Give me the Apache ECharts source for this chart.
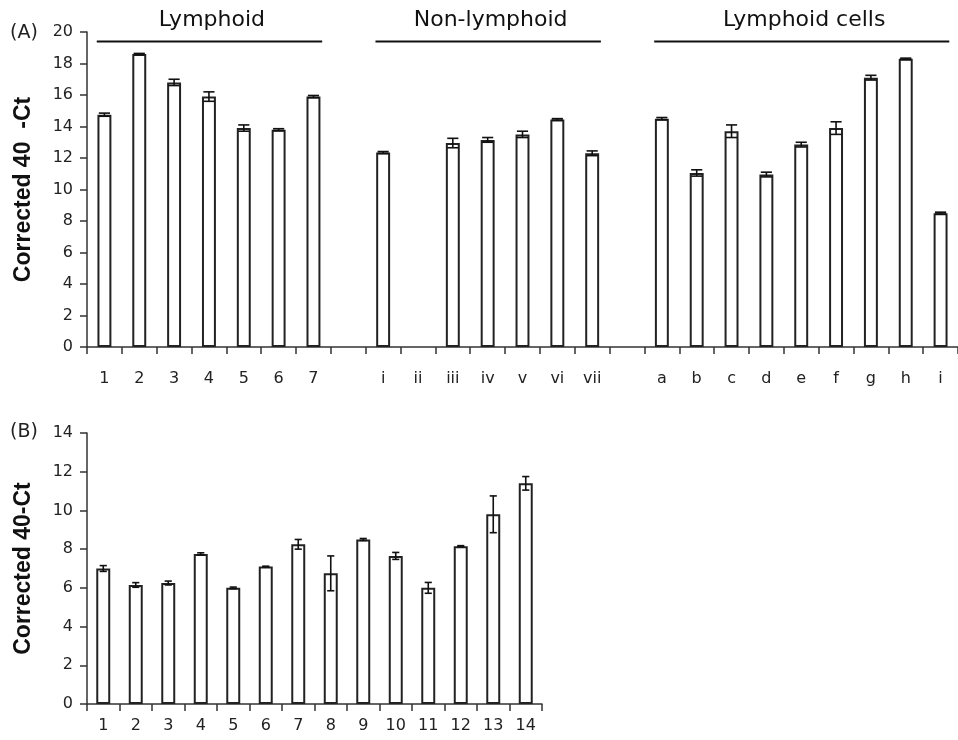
<!DOCTYPE html>
<html>
<head>
<meta charset="utf-8">
<script src="https://cdn.jsdelivr.net/npm/echarts@6/dist/echarts.min.js"></script>
<style>html,body{margin:0;padding:0;background:#fff;}#c{width:958px;height:740px;}</style>
</head>
<body>
<div id="c"></div>
<script>
// ---- Panel A data ----
const catsA = ['1','2','3','4','5','6','7',' ','i','ii','iii','iv','v','vi','vii','  ','a','b','c','d','e','f','g','h','i'];
const valuesA = [14.75,18.6,16.8,15.9,13.9,13.8,15.9,'-',12.35,'-',12.95,13.15,13.5,14.45,12.3,'-',14.5,11.05,13.7,10.95,12.85,13.9,17.1,18.3,8.5];
const errorsA = [0.1,0.04,0.2,0.3,0.2,0.06,0.07,'-',0.06,'-',0.3,0.15,0.2,0.05,0.15,'-',0.07,0.2,0.4,0.15,0.15,0.4,0.15,0.04,0.06];
const groupsA = [['Lymphoid',0,6],['Non-lymphoid',8,14],['Lymphoid cells',16,24]];
const yTicksA = {min:0,max:20,interval:2};
// ---- Panel B data ----
const catsB = ['1','2','3','4','5','6','7','8','9','10','11','12','13','14'];
const valuesB = [7.0,6.15,6.25,7.75,6.0,7.1,8.25,6.75,8.5,7.65,6.0,8.15,9.8,11.4];
const errorsB = [0.15,0.12,0.1,0.06,0.04,0.02,0.25,0.9,0.05,0.18,0.28,0.03,0.95,0.35];
const yTicksB = {min:0,max:14,interval:2};

const FONT = 'DejaVu Sans';
const AXC = '#333';

function errData(vals, errs){
  const out = [];
  vals.forEach((v,i)=>{ if(v!=='-' && errs[i]!=='-') out.push([i,v,errs[i]]); });
  return out;
}
function errRender(capFrac){
  return function(params, api){
    const i = api.value(0), v = api.value(1), e = api.value(2);
    const top = api.coord([i, v+e]);
    const bot = api.coord([i, v-e]);
    const band = api.size([1,0])[0];
    const hw = band*capFrac;
    const st = {stroke:'#111', lineWidth:1.6};
    return {type:'group', children:[
      {type:'line', shape:{x1:top[0],y1:top[1],x2:bot[0],y2:bot[1]}, style:st},
      {type:'line', shape:{x1:top[0]-hw,y1:top[1],x2:top[0]+hw,y2:top[1]}, style:st},
      {type:'line', shape:{x1:bot[0]-hw,y1:bot[1],x2:bot[0]+hw,y2:bot[1]}, style:st}
    ]};
  };
}

const chart = echarts.init(document.getElementById('c'), null, {renderer:'canvas'});

const xAxisCommon = {
  type:'category',
  axisLine:{lineStyle:{color:AXC,width:1.5}},
  axisTick:{show:true,length:7,lineStyle:{color:AXC,width:1.5}},
  axisLabel:{interval:0,color:'#222',fontFamily:FONT,fontSize:16},
  splitLine:{show:false}
};
const yAxisCommon = {
  type:'value',
  axisLine:{show:true,lineStyle:{color:AXC,width:1.5}},
  axisTick:{show:true,length:7,lineStyle:{color:AXC,width:1.5}},
  axisLabel:{color:'#222',fontFamily:FONT,fontSize:16,margin:14},
  splitLine:{show:false},
  nameLocation:'middle',
  nameTextStyle:{fontFamily:'Liberation Sans',fontWeight:'bold',fontSize:23,color:'#111'}
};

chart.setOption({
  animation:false,
  backgroundColor:'#fff',
  grid:[
    {left:87, top:32, width:879, height:315},
    {left:87, top:433, width:455, height:271}
  ],
  xAxis:[
    Object.assign({}, xAxisCommon, {gridIndex:0, data:catsA, axisLabel:Object.assign({}, xAxisCommon.axisLabel,{margin:24})}),
    Object.assign({}, xAxisCommon, {gridIndex:1, data:catsB, axisLabel:Object.assign({}, xAxisCommon.axisLabel,{margin:14})})
  ],
  yAxis:[
    Object.assign({}, yAxisCommon, yTicksA, {gridIndex:0, name:'Corrected 40  -Ct', nameGap:52}),
    Object.assign({}, yAxisCommon, yTicksB, {gridIndex:1, name:'Corrected 40-Ct', nameGap:52})
  ],
  graphic:[
    {type:'text', left:10, top:24, style:{text:'(A)', font:'19px "DejaVu Sans"', fill:'#222'}},
    {type:'text', left:10, top:423, style:{text:'(B)', font:'19px "DejaVu Sans"', fill:'#222'}}
  ],
  series:[
    {type:'bar', xAxisIndex:0, yAxisIndex:0, data:valuesA, barWidth:'40%',
     itemStyle:{color:'#fff', borderColor:'#222', borderWidth:2}},
    {type:'custom', xAxisIndex:0, yAxisIndex:0, data:errData(valuesA,errorsA), renderItem:errRender(0.16), z:5},
    {type:'custom', xAxisIndex:0, yAxisIndex:0, clip:false,
     data:groupsA.map(g=>[g[1],g[2],19.4,g[0]]),
     renderItem:function(params, api){
       const s = api.coord([api.value(0), api.value(2)]);
       const e = api.coord([api.value(1), api.value(2)]);
       const band = api.size([1,0])[0];
       const x1 = s[0]-band*0.22, x2 = e[0]+band*0.25;
       const name = groupsA[params.dataIndex][0];
       return {type:'group', children:[
         {type:'line', shape:{x1:x1,y1:s[1],x2:x2,y2:s[1]}, style:{stroke:'#111',lineWidth:2}},
         {type:'text', x:(s[0]+e[0])/2 + 3, y:s[1]-21, style:{text:name, font:'22px "DejaVu Sans"', fill:'#111', align:'center', verticalAlign:'middle'}}
       ]};
     }},
    {type:'bar', xAxisIndex:1, yAxisIndex:1, data:valuesB, barWidth:'43%',
     itemStyle:{color:'#fff', borderColor:'#222', borderWidth:2}},
    {type:'custom', xAxisIndex:1, yAxisIndex:1, data:errData(valuesB,errorsB), renderItem:errRender(0.11), z:5}
  ]
});
</script>
</body>
</html>
